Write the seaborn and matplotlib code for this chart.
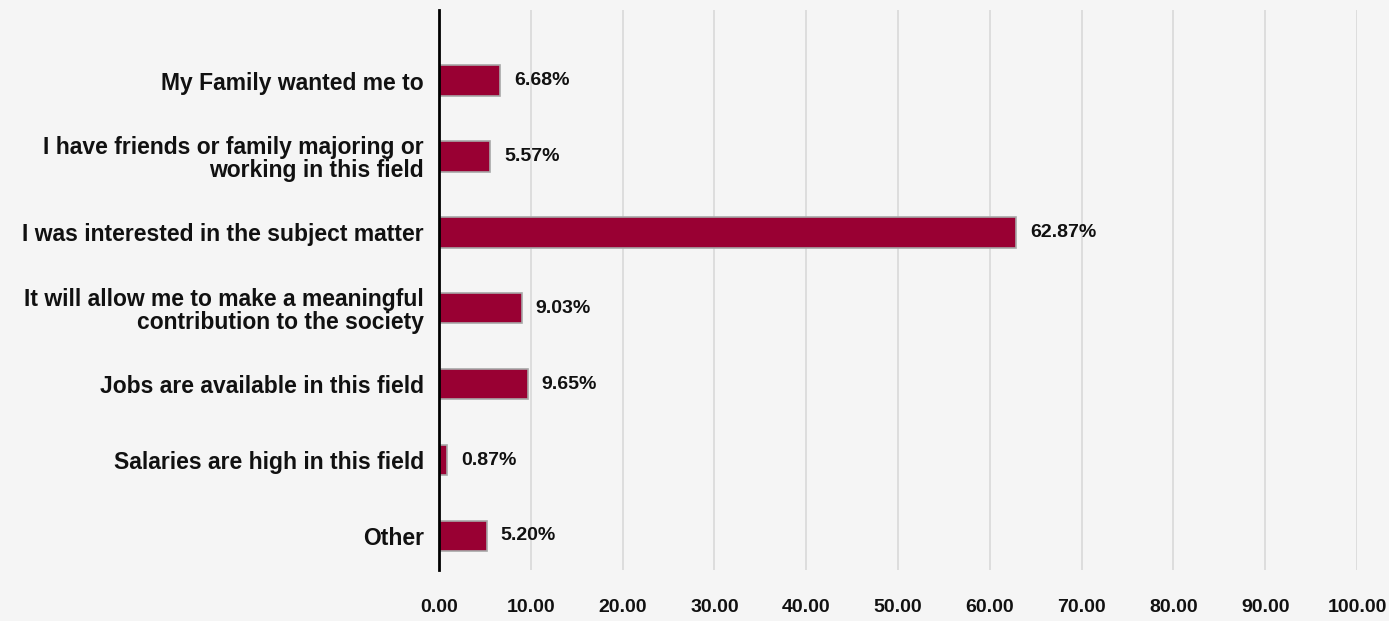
import matplotlib
matplotlib.use('Agg')
import matplotlib.pyplot as plt
import seaborn as sns
import pandas as pd

categories = [
    'My Family wanted me to',
    'I have friends or family majoring or\nworking in this field',
    'I was interested in the subject matter',
    'It will allow me to make a meaningful\ncontribution to the society',
    'Jobs are available in this field',
    'Salaries are high in this field',
    'Other',
]
values = [6.68, 5.57, 62.87, 9.03, 9.65, 0.87, 5.20]
xticks = [0, 10, 20, 30, 40, 50, 60, 70, 80, 90, 100]

bg = '#f5f5f5'
sns.set_style('white')
plt.rcParams['font.family'] = ['Liberation Sans', 'DejaVu Sans']

df = pd.DataFrame({'reason': categories, 'pct': values})

fig = plt.figure(figsize=(13.89, 6.21), dpi=100, facecolor=bg)
ax = fig.add_axes([0.316, 0.082, 0.661, 0.902])
ax.set_facecolor(bg)

sns.barplot(data=df, x='pct', y='reason', orient='h', color='#990033',
            edgecolor='#a8a8a8', linewidth=1.2, width=0.4, saturation=1, ax=ax, zorder=3)

for i, v in enumerate(values):
    ax.annotate(f'{v:.2f}%', xy=(v, i), xytext=(10, 0), textcoords='offset points',
                va='center', ha='left', fontsize=14, fontweight='bold', color='#111111')

ax.set_xlim(0, 100)
ax.set_ylim(6.45, -0.93)
ax.set_xticks(xticks)
ax.set_xticklabels([f'{t:.2f}' for t in xticks], fontsize=14, fontweight='bold', color='#111111')
ax.xaxis.grid(True, color='#d9d9d9', linewidth=1.2, zorder=0)
ax.tick_params(axis='x', length=0, pad=21)
ax.tick_params(axis='y', length=0, pad=11)
for lbl in ax.get_yticklabels():
    lbl.set_fontsize(16.5)
    lbl.set_fontweight('bold')
    lbl.set_color('#111111')
    lbl.set_linespacing(1.0)
ax.set_xlabel('')
ax.set_ylabel('')
for s in ['top', 'right', 'bottom']:
    ax.spines[s].set_visible(False)
ax.spines['left'].set_color('black')
ax.spines['left'].set_linewidth(2)
ax.spines['left'].set_zorder(5)

fig.savefig('out.png', dpi=100, facecolor=bg)
